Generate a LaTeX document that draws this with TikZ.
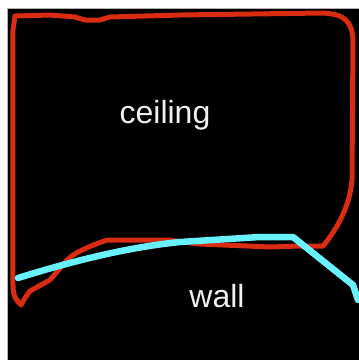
\documentclass[tikz,border=0pt]{standalone}
\usepackage{fontspec}
\setmainfont{Liberation Sans}
\definecolor{outlinered}{RGB}{218,44,16}
\definecolor{wallcyan}{RGB}{104,242,255}
\definecolor{labelwhite}{RGB}{240,240,240}
\tikzset{
  redline/.style={draw=outlinered, line width=5pt, line join=round, line cap=round},
  cyanline/.style={draw=wallcyan, line width=6.5pt, line join=round, line cap=round},
  label/.style={text=labelwhite, inner sep=0pt, font=\fontsize{32}{36}\selectfont}
}
\begin{document}
\begin{tikzpicture}[x=1pt,y=-1pt]
\useasboundingbox (0,0) rectangle (359,360);
\fill[white] (0,0) rectangle (359,360);
\fill[black] (7,8) rectangle (359,360);
\draw[gray!60, line width=0.8pt] (7,360) -- (7,8) -- (359,8);
\begin{scope}
\clip (7,8) rectangle (359,360);
% red outline of the ceiling
\path[redline] (21,305)
  .. controls (16,300) and (13,296) .. (13,285)
  -- (13,30) -- (15,16)
  -- (50,15) -- (75,17) -- (85,20) -- (100,20) -- (110,17)
  -- (180,15) -- (323,13)
  .. controls (345,14) and (352,22) .. (353,40)
  -- (352,180)
  .. controls (350,205) and (338,228) .. (323,246)
  -- (300,246) -- (270,247) -- (200,244) -- (167,240) -- (107,240)
  .. controls (90,246) and (75,252) .. (67,260)
  -- (50,280) -- (30,291) -- (25,298) -- (21,305);
% cyan wall line
\path[cyanline] (18,278)
  .. controls (60,265) and (120,248) .. (180,242)
  -- (260,237) -- (293,237)
  -- (353,285) -- (358,300);
\end{scope}
\node[label, anchor=base] (ceiling) at (165,123) {ceiling};
\node[label, anchor=base] (wall) at (217,307) {wall};
\end{tikzpicture}
\end{document}
